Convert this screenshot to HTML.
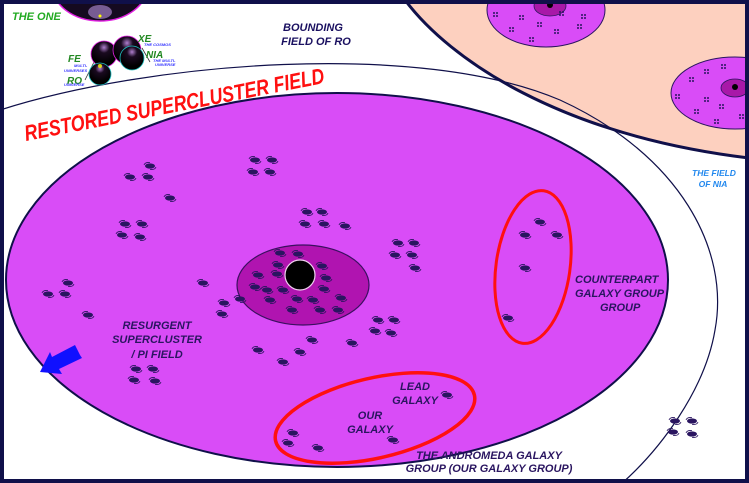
<!DOCTYPE html>
<html><head><meta charset="utf-8"><style>
html,body{margin:0;padding:0;background:#fff}
svg{display:block}
text{font-family:"Liberation Sans",Arial,sans-serif;font-weight:bold;font-style:italic}
</style></head><body>
<svg width="749" height="483" viewBox="0 0 749 483" xmlns="http://www.w3.org/2000/svg">
<defs>
<g id="g"><ellipse cx="0" cy="0" rx="5" ry="2.6" fill="#2a1560"/><path d="M-6,-1 Q-5,-4 0,-3.5 M6,1 Q5,4 0,3.5" stroke="#2a1560" stroke-width="0.8" fill="none"/></g>
<g id="d"><circle cx="0" cy="0" r="1" fill="#2a1560"/><circle cx="3" cy="0" r="1" fill="#2a1560"/><circle cx="0" cy="3" r="1" fill="#2a1560"/><circle cx="3" cy="3" r="1" fill="#2a1560"/></g>
<radialGradient id="sph" cx="0.5" cy="0.25" r="0.6"><stop offset="0" stop-color="#b080d0"/><stop offset="0.35" stop-color="#1a0a20"/><stop offset="1" stop-color="#000"/></radialGradient>
</defs>
<rect width="749" height="483" fill="#fff"/>
<path d="M405,0 C450,60 560,135 749,158 L749,0 Z" fill="#fdd0bf" stroke="#10104a" stroke-width="3"/>
<ellipse cx="546" cy="10" rx="59" ry="37" fill="#d94cf7" stroke="#2a1560" stroke-width="1"/>
<ellipse cx="550" cy="6" rx="16" ry="10" fill="#a818a8" stroke="#2a1560" stroke-width="0.8"/>
<circle cx="550" cy="5" r="3" fill="#000"/>
<ellipse cx="735" cy="93" rx="64" ry="36" fill="#d94cf7" stroke="#2a1560" stroke-width="1"/>
<ellipse cx="735" cy="88" rx="14" ry="9" fill="#a818a8" stroke="#2a1560" stroke-width="0.8"/>
<circle cx="735" cy="87" r="3" fill="#000"/>
<g>
<use href="#d" x="494" y="13"/><use href="#d" x="520" y="16"/><use href="#d" x="510" y="28"/><use href="#d" x="538" y="23"/><use href="#d" x="555" y="30"/><use href="#d" x="582" y="15"/><use href="#d" x="578" y="25"/><use href="#d" x="530" y="38"/><use href="#d" x="560" y="12"/>
<use href="#d" x="690" y="78"/><use href="#d" x="705" y="70"/><use href="#d" x="722" y="65"/><use href="#d" x="676" y="95"/><use href="#d" x="705" y="98"/><use href="#d" x="695" y="110"/><use href="#d" x="720" y="105"/><use href="#d" x="715" y="120"/><use href="#d" x="740" y="115"/>
</g>
<path d="M0,110 C150,62 420,40 560,100 C680,155 730,250 715,330 C705,390 660,450 620,485" fill="none" stroke="#10104a" stroke-width="1.2"/>
<ellipse cx="337" cy="280" rx="331" ry="187" fill="#d94cf7" stroke="#10104a" stroke-width="2"/>
<ellipse cx="303" cy="285" rx="66" ry="40" fill="#b014b0" stroke="#3a1060" stroke-width="1.2"/>
<g>
<use href="#g" x="150" y="166"/><use href="#g" x="130" y="177"/><use href="#g" x="148" y="177"/><use href="#g" x="170" y="198"/><use href="#g" x="125" y="224"/><use href="#g" x="142" y="224"/><use href="#g" x="122" y="235"/><use href="#g" x="140" y="237"/><use href="#g" x="68" y="283"/><use href="#g" x="48" y="294"/><use href="#g" x="65" y="294"/><use href="#g" x="88" y="315"/><use href="#g" x="203" y="283"/><use href="#g" x="255" y="160"/><use href="#g" x="272" y="160"/><use href="#g" x="253" y="172"/><use href="#g" x="270" y="172"/><use href="#g" x="307" y="212"/><use href="#g" x="322" y="212"/><use href="#g" x="305" y="224"/><use href="#g" x="324" y="224"/><use href="#g" x="345" y="226"/><use href="#g" x="398" y="243"/><use href="#g" x="414" y="243"/><use href="#g" x="395" y="255"/><use href="#g" x="412" y="255"/><use href="#g" x="415" y="268"/><use href="#g" x="224" y="303"/><use href="#g" x="222" y="314"/><use href="#g" x="240" y="299"/><use href="#g" x="378" y="320"/><use href="#g" x="394" y="320"/><use href="#g" x="375" y="331"/><use href="#g" x="391" y="333"/><use href="#g" x="352" y="343"/><use href="#g" x="258" y="350"/><use href="#g" x="300" y="352"/><use href="#g" x="283" y="362"/><use href="#g" x="312" y="340"/><use href="#g" x="136" y="369"/><use href="#g" x="153" y="369"/><use href="#g" x="134" y="380"/><use href="#g" x="155" y="381"/><use href="#g" x="540" y="222"/><use href="#g" x="525" y="235"/><use href="#g" x="557" y="235"/><use href="#g" x="525" y="268"/><use href="#g" x="508" y="318"/><use href="#g" x="447" y="395"/><use href="#g" x="293" y="433"/><use href="#g" x="288" y="443"/><use href="#g" x="318" y="448"/><use href="#g" x="393" y="440"/><use href="#g" x="675" y="421"/><use href="#g" x="692" y="421"/><use href="#g" x="673" y="432"/><use href="#g" x="692" y="434"/>
<use href="#g" x="280" y="253"/><use href="#g" x="298" y="254"/><use href="#g" x="278" y="265"/><use href="#g" x="258" y="275"/><use href="#g" x="277" y="274"/><use href="#g" x="322" y="266"/><use href="#g" x="326" y="278"/><use href="#g" x="255" y="287"/><use href="#g" x="267" y="290"/><use href="#g" x="283" y="290"/><use href="#g" x="324" y="289"/><use href="#g" x="270" y="300"/><use href="#g" x="297" y="299"/><use href="#g" x="313" y="300"/><use href="#g" x="341" y="298"/><use href="#g" x="292" y="310"/><use href="#g" x="320" y="310"/><use href="#g" x="338" y="310"/>
</g>
<circle cx="300" cy="275" r="15" fill="#000" stroke="#f0d0f0" stroke-width="1.2"/>
<ellipse cx="533" cy="267" rx="37" ry="77" fill="none" stroke="#ff1010" stroke-width="3" transform="rotate(8 533 267)"/>
<ellipse cx="375" cy="418" rx="102" ry="40" fill="none" stroke="#ff1010" stroke-width="3.5" transform="rotate(-13 375 418)"/>
<polygon points="80,355 75,345 52,357 50,352 40,372 62,374 59,369 82,358" fill="#1010ff"/>
<ellipse cx="100" cy="-15" rx="48" ry="36" fill="#150a20" stroke="#e020e0" stroke-width="1.5"/>
<ellipse cx="100" cy="12" rx="12" ry="7" fill="#9070b0" opacity="0.8"/>
<circle cx="100" cy="16" r="1.5" fill="#ff0"/>
<path d="M85,80 L95,60 M150,62 L142,48" stroke="#333" stroke-width="0.8"/>
<circle cx="104" cy="54" r="13" fill="url(#sph)" stroke="#e020e0" stroke-width="0.8"/>
<circle cx="127" cy="50" r="14" fill="url(#sph)" stroke="#e020e0" stroke-width="0.8"/>
<circle cx="132" cy="58" r="12" fill="url(#sph)" stroke="#20c0c0" stroke-width="0.8"/>
<circle cx="100" cy="74" r="11" fill="url(#sph)" stroke="#20c0c0" stroke-width="0.8"/>
<circle cx="100" cy="66" r="2" fill="#ff0" opacity="0.8"/>
<text x="12" y="20" font-size="11" fill="#22aa22">THE ONE</text>
<text x="68" y="62" font-size="10" fill="#228822" font-style="normal">FE</text>
<text x="138" y="42" font-size="10" fill="#228822" font-style="normal">XE</text>
<text x="146" y="58" font-size="10" fill="#228822" font-style="normal">NIA</text>
<text x="67" y="84" font-size="10" fill="#228822" font-style="normal">RO</text>
<text x="144" y="46" font-size="4" fill="#3030ff">THE COSMOS</text>
<text x="153" y="62" font-size="4" fill="#3030ff">THE MULTI-</text>
<text x="155" y="66" font-size="4" fill="#3030ff">UNIVERSE</text>
<text x="74" y="67" font-size="4" fill="#3030ff">MULTI-</text>
<text x="64" y="72" font-size="4" fill="#3030ff">UNIVERSES</text>
<text x="64" y="86" font-size="4" fill="#3030ff">UNIVERSE</text>
<text x="313" y="31" font-size="11" fill="#1a1060" text-anchor="middle">BOUNDING</text>
<text x="316" y="45" font-size="11" fill="#1a1060" text-anchor="middle">FIELD OF  RO</text>
<text x="26" y="141" font-size="22" fill="#ff1010" textLength="305" lengthAdjust="spacingAndGlyphs" transform="rotate(-11 26 141)">RESTORED SUPERCLUSTER FIELD</text>
<text x="714" y="176" font-size="8.5" fill="#2288ee" text-anchor="middle" font-weight="normal">THE FIELD</text>
<text x="713" y="187" font-size="8.5" fill="#2288ee" text-anchor="middle" font-weight="normal">OF  NIA</text>
<g font-size="11" fill="#2a1560">
<text x="575" y="283">COUNTERPART</text>
<text x="575" y="297">GALAXY GROUP</text>
<text x="600" y="311">GROUP</text>
<text x="157" y="329" text-anchor="middle">RESURGENT</text>
<text x="157" y="343" text-anchor="middle">SUPERCLUSTER</text>
<text x="157" y="358" text-anchor="middle">/ PI FIELD</text>
<text x="415" y="390" text-anchor="middle">LEAD</text>
<text x="415" y="404" text-anchor="middle">GALAXY</text>
<text x="370" y="419" text-anchor="middle">OUR</text>
<text x="370" y="433" text-anchor="middle">GALAXY</text>
<text x="489" y="459" text-anchor="middle">THE ANDROMEDA GALAXY</text>
<text x="489" y="472" text-anchor="middle">GROUP (OUR GALAXY GROUP)</text>
</g>
<rect x="2" y="2" width="745" height="479" fill="none" stroke="#10104a" stroke-width="4"/>
</svg>
</body></html>
